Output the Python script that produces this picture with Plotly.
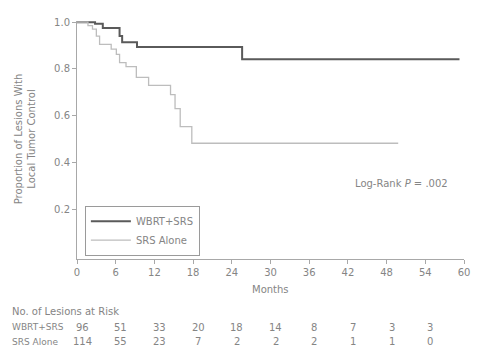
import plotly.graph_objects as go

# Kaplan-Meier step data (months, proportion)
wbrt_t = [0, 2.8, 4.0, 6.6, 7.0, 9.3, 25.6, 59.3]
wbrt_s = [1.0, 0.993, 0.975, 0.941, 0.914, 0.894, 0.841, 0.841]

srs_t = [0, 1.7, 2.4, 3.0, 3.5, 5.3, 6.1, 6.6, 7.6, 9.2, 11.1, 14.5, 15.2, 16.0, 17.8, 49.8]
srs_s = [1.0, 0.985, 0.97, 0.94, 0.905, 0.885, 0.862, 0.827, 0.81, 0.764, 0.73, 0.69, 0.63, 0.553, 0.482, 0.482]

x_ticks = [0, 6, 12, 18, 24, 30, 36, 42, 48, 54, 60]
y_ticks = [0.2, 0.4, 0.6, 0.8, 1.0]
y_ticklabels = ["0.2", "0.4", "0.6", "0.8", "1.0"]

risk_months = [0, 6, 12, 18, 24, 30, 36, 42, 48, 54]
wbrt_risk = [96, 51, 33, 20, 18, 14, 8, 7, 3, 3]
srs_risk = [114, 55, 23, 7, 2, 2, 2, 1, 1, 0]

series_names = ["WBRT+SRS", "SRS Alone"]

FONT = "DejaVu Sans, Liberation Sans, sans-serif"
TXT = "#858585"
AX = "#a8a8a8"

fig = go.Figure()
fig.add_trace(go.Scatter(x=wbrt_t, y=wbrt_s, mode="lines", line_shape="hv",
                         line=dict(color="#5a5a5a", width=2), name=series_names[0]))
fig.add_trace(go.Scatter(x=srs_t, y=srs_s, mode="lines", line_shape="hv",
                         line=dict(color="#bdbdbd", width=1.3), name=series_names[1]))

OFF = 8  # page body margin
W, H = 479 - OFF, 352 - OFF
L, R, T, B = 77 - OFF, 9, 18 - OFF, 93
pw, ph = W - L - R, H - T - B

def px_x(px):
    # screen pixel -> paper x
    return (px - OFF - L) / pw

def px_y(py):
    # screen pixel -> paper y
    return (H - B - (py - OFF)) / ph

ann = []
ann.append(dict(text="Proportion of Lesions With<br>Local Tumor Control", textangle=-90,
                xref="paper", yref="paper", x=px_x(24), y=px_y(137),
                xanchor="center", yanchor="middle", showarrow=False,
                font=dict(size=10, color=TXT, family=FONT)))
ann.append(dict(text="Months", xref="paper", yref="paper", x=px_x(273), y=px_y(290),
                xanchor="center", yanchor="middle", showarrow=False,
                font=dict(size=10, color=TXT, family=FONT)))
ann.append(dict(text="Log-Rank <i>P</i> = .002", xref="paper", yref="paper",
                x=px_x(456), y=px_y(183), xanchor="right", yanchor="middle", showarrow=False,
                font=dict(size=10, color=TXT, family=FONT)))
ann.append(dict(text="No. of Lesions at Risk", xref="paper", yref="paper",
                x=px_x(OFF + 1), y=px_y(312), xanchor="left", yanchor="middle", showarrow=False,
                font=dict(size=10, color=TXT, family=FONT)))
for name, vals, py in [(series_names[0], wbrt_risk, 328), (series_names[1], srs_risk, 343)]:
    ann.append(dict(text=name, xref="paper", yref="paper", x=px_x(OFF + 1), y=px_y(py),
                    xanchor="left", yanchor="middle", showarrow=False,
                    font=dict(size=9, color=TXT, family=FONT)))
    for m, v in zip(risk_months, vals):
        ann.append(dict(text=str(v), xref="x", yref="paper", x=m, y=px_y(py), xshift=5,
                        xanchor="center", yanchor="middle", showarrow=False,
                        font=dict(size=10, color=TXT, family=FONT)))

fig.update_layout(
    width=W, height=H,
    margin=dict(l=L, r=R, t=T, b=B),
    paper_bgcolor="white", plot_bgcolor="white",
    font=dict(family=FONT, size=10, color=TXT),
    showlegend=True,
    legend=dict(x=px_x(85), y=px_y(205), xanchor="left", yanchor="top",
                bordercolor="#9a9a9a", borderwidth=1, bgcolor="white", itemwidth=40,
                font=dict(size=10, color=TXT, family=FONT), tracegroupgap=0),
    annotations=ann,
    xaxis=dict(range=[0, 60], tickvals=x_ticks, ticktext=[str(v) for v in x_ticks],
               showgrid=False, zeroline=False, showline=True, linecolor=AX, linewidth=1,
               ticks="outside", ticklen=4, tickcolor=AX,
               tickfont=dict(size=10, color=TXT, family=FONT)),
    yaxis=dict(range=[-0.013, 1.005], tickvals=y_ticks, ticktext=y_ticklabels,
               showgrid=False, zeroline=False, showline=True, linecolor=AX, linewidth=1,
               ticks="outside", ticklen=4, tickcolor=AX,
               tickfont=dict(size=10, color=TXT, family=FONT)),
)

fig.write_html("out.html")
